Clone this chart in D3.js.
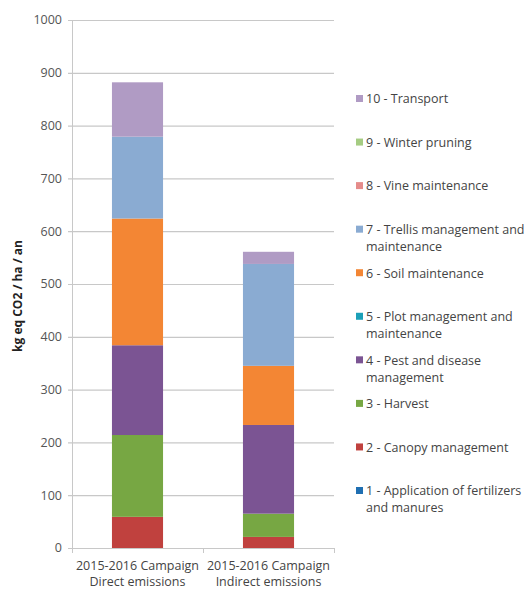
<!DOCTYPE html>
<html>
<head>
<meta charset="utf-8">
<script src="https://d3js.org/d3.v7.min.js"></script>
<style>
body { margin: 0; background: #fff; }
text { font-family: "Open Sans", "Lato", sans-serif; }
</style>
</head>
<body>
<div id="chart"></div>
<script>
// categories (x axis), two-line labels
var categories = ["2015-2016 Campaign|Direct emissions", "2015-2016 Campaign|Indirect emissions"];

// series, bottom of stack first
var seriesNames = [
    "1 - Application of fertilizers and manures",
    "2 - Canopy management",
    "3 - Harvest",
    "4 - Pest and disease management",
    "5 - Plot management and maintenance",
    "6 - Soil maintenance",
    "7 - Trellis management and maintenance",
    "8 - Vine maintenance",
    "9 - Winter pruning",
    "10 - Transport"
];
// legend text broken as in the picture
var legendLines = [
    ["1 - Application of fertilizers", "and manures"],
    ["2 - Canopy management"],
    ["3 - Harvest"],
    ["4 - Pest and disease", "management"],
    ["5 - Plot management and", "maintenance"],
    ["6 - Soil maintenance"],
    ["7 - Trellis management and", "maintenance"],
    ["8 - Vine maintenance"],
    ["9 - Winter pruning"],
    ["10 - Transport"]
];
var seriesColors = ["#1f6fb2", "#c0413e", "#77a743", "#7b5493", "#1ca0b8",
                    "#f38634", "#8aabd2", "#e58c8a", "#a5cc82", "#b09bc4"];

var directValues   = [0, 59, 155, 170, 0, 240, 155, 0, 0, 103];
var indirectValues = [0, 21, 44, 168, 0, 112, 193, 0, 0, 23];

var yTicks = [0, 100, 200, 300, 400, 500, 600, 700, 800, 900, 1000];

// build rows for d3.stack
var rows = categories.map(function(c, i) {
    var vals = i == 0 ? directValues : indirectValues;
    var row = {cat: c};
    seriesNames.forEach(function(s, j) { row[s] = vals[j]; });
    return row;
});

var margin = {top: 20, left: 72, right: 194, bottom: 42};
var W = 528, H = 590;
var width = W - margin.left - margin.right;
var height = H - margin.top - margin.bottom;

var svg = d3.select("#chart").append("svg")
    .attr("width", W)
    .attr("height", H);

var g = svg.append("g")
    .attr("transform", "translate(" + margin.left + "," + margin.top + ")");

var x = d3.scaleBand()
    .domain(categories)
    .range([0, width])
    .paddingInner(0.61)
    .paddingOuter(0.305);

var y = d3.scaleLinear()
    .domain([0, 1000])
    .range([height, 0]);

// gridlines
g.append("g")
    .selectAll("line")
    .data(yTicks)
    .enter()
    .append("line")
    .attr("x1", -4)
    .attr("x2", width)
    .attr("y1", function(d) { return y(d) + 0.5; })
    .attr("y2", function(d) { return y(d) + 0.5; })
    .attr("stroke", "#c8c8c8")
    .attr("stroke-width", 1.2);

// y labels
g.append("g")
    .selectAll("text")
    .data(yTicks)
    .enter()
    .append("text")
    .attr("x", -10)
    .attr("y", function(d) { return y(d); })
    .attr("dy", "0.35em")
    .attr("text-anchor", "end")
    .attr("font-size", "12.5px")
    .attr("fill", "#555")
    .text(function(d) { return d; });

// axis lines
g.append("line")
    .attr("x1", 0.5).attr("x2", 0.5)
    .attr("y1", 0).attr("y2", height)
    .attr("stroke", "#c8c8c8");

var catTicks = [0, 1, 2];
g.append("g")
    .selectAll("line")
    .data(catTicks)
    .enter()
    .append("line")
    .attr("x1", function(d) { return Math.round(d * width / 2) + 0.5; })
    .attr("x2", function(d) { return Math.round(d * width / 2) + 0.5; })
    .attr("y1", height)
    .attr("y2", height + 5)
    .attr("stroke", "#c8c8c8");

// stacked bars
var stack = d3.stack().keys(seriesNames);
var layers = stack(rows);

g.selectAll(".layer")
    .data(layers)
    .enter()
    .append("g")
    .attr("class", "layer")
    .attr("fill", function(d, i) { return seriesColors[i]; })
    .selectAll("rect")
    .data(function(d) { return d; })
    .enter()
    .append("rect")
    .attr("x", function(d) { return x(d.data.cat); })
    .attr("width", x.bandwidth())
    .attr("y", function(d) { return y(d[1]); })
    .attr("height", function(d) { return y(d[0]) - y(d[1]); });

// category labels
categories.forEach(function(c) {
    var parts = c.split("|");
    var t = g.append("text")
        .attr("x", x(c) + x.bandwidth() / 2)
        .attr("y", height + 22)
        .attr("text-anchor", "middle")
        .attr("font-size", "12.5px")
        .attr("fill", "#444");
    parts.forEach(function(p, k) {
        t.append("tspan")
            .attr("x", x(c) + x.bandwidth() / 2)
            .attr("dy", k == 0 ? 0 : 16)
            .text(p);
    });
});

// y title
svg.append("text")
    .attr("transform", "translate(22," + (margin.top + height / 2 + 12) + ") rotate(-90)")
    .attr("text-anchor", "middle")
    .attr("font-size", "12px")
    .attr("font-weight", "bold")
    .attr("fill", "#222")
    .text("kg eq CO2 / ha / an");

// legend, top = series 10
var legendY = d3.scaleLinear().domain([9, 0]).range([99, 491]);
var legend = svg.append("g");
seriesNames.forEach(function(s, i) {
    var ly = legendY(i);
    legend.append("rect")
        .attr("x", 356)
        .attr("y", ly - 4)
        .attr("width", 7)
        .attr("height", 7)
        .attr("fill", seriesColors[i]);
    var t = legend.append("text")
        .attr("x", 366)
        .attr("y", ly)
        .attr("dy", "0.35em")
        .attr("font-size", "12.5px")
        .attr("fill", "#444");
    legendLines[i].forEach(function(p, k) {
        t.append("tspan")
            .attr("x", 366)
            .attr("dy", k == 0 ? "0.35em" : 17)
            .text(p);
    });
});
</script>
</body>
</html>
